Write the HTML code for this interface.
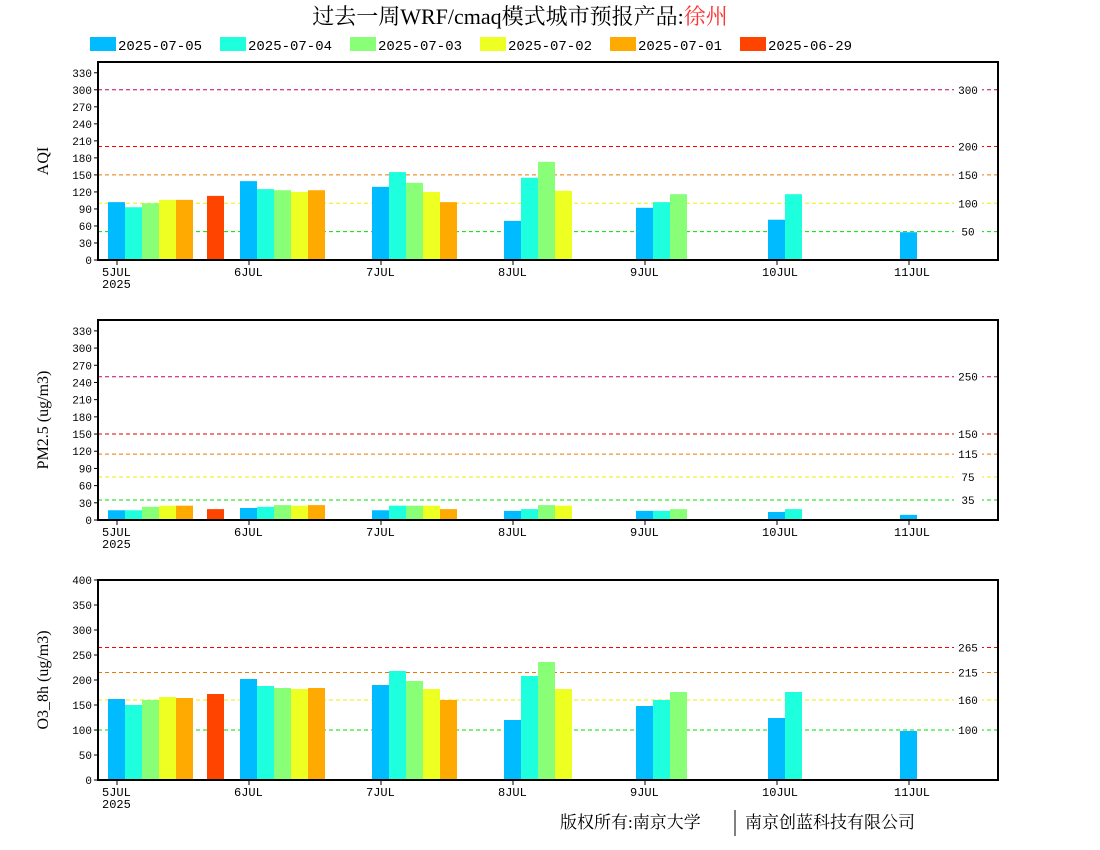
<!DOCTYPE html>
<html><head><meta charset="utf-8">
<style>
html,body{margin:0;padding:0;background:#fff;}
svg{display:block;font-family:"Liberation Mono","WenQuanYi Zen Hei",monospace;}
</style></head>
<body>
<svg id="chart" width="1100" height="850" viewBox="0 0 1100 850">
<text x="520" y="24" text-anchor="middle" font-size="22" font-family="Liberation Serif, Noto Serif CJK SC, serif">过去一周WRF/cmaq模式城市预报产品:<tspan fill="#ff3333">徐州</tspan></text>
<g id="legend"></g>
<g id="panels"></g>
<text x="560" y="828" font-size="17" font-family="Liberation Serif, Noto Serif CJK SC, serif">版权所有:南京大学</text>
<line x1="735" y1="810" x2="735" y2="836" stroke="#000" stroke-width="1"/>
<text x="745" y="828" font-size="17" font-family="Liberation Serif, Noto Serif CJK SC, serif">南京创蓝科技有限公司</text>
</svg>
<script>
const seriesNames = ["2025-07-05","2025-07-04","2025-07-03","2025-07-02","2025-07-01","2025-06-29"];
const seriesColors = ["#00bbff","#1effdd","#88ff77","#eeff22","#ffaa00","#ff4400"];
const dayLabels = ["5JUL","6JUL","7JUL","8JUL","9JUL","10JUL","11JUL"];
// values per series per day (null = no bar); series 6 (06-29) only on day index 0.75
const aqiValues = [
  [102,139,129,69,92,71,49],
  [93,125,155,145,102,116,null],
  [100,123,136,173,116,null,null],
  [106,120,120,122,null,null,null],
  [106,123,102,null,null,null,null]
];
const aqiOld = 113;
const pmValues = [
  [17,21,17,16,16,14,9],
  [17,23,25,19,16,19,null],
  [23,26,25,26,19,null,null],
  [25,25,25,25,null,null,null],
  [25,26,19,null,null,null,null]
];
const pmOld = 19;
const o3Values = [
  [162,202,190,120,148,124,98],
  [150,188,218,208,160,176,null],
  [160,184,198,236,176,null,null],
  [166,182,182,182,null,null,null],
  [164,184,160,null,null,null,null]
];
const o3Old = 172;
const aqiTicks = [0,30,60,90,120,150,180,210,240,270,300,330];
const pmTicks = [0,30,60,90,120,150,180,210,240,270,300,330];
const o3Ticks = [0,50,100,150,200,250,300,350,400];
const aqiRefs = [300,200,150,100,50];
const pmRefs = [250,150,115,75,35];
const o3Refs = [265,215,160,100];

const NS="http://www.w3.org/2000/svg";
function mk(tag,attrs,parent){const e=document.createElementNS(NS,tag);for(const k in attrs)e.setAttribute(k,attrs[k]);parent.appendChild(e);return e;}

const svg=document.getElementById('chart');
const leg=document.getElementById('legend');
seriesNames.forEach((n,i)=>{
  const x=90+i*130;
  const r=mk('rect',{x:x,y:37,width:26,height:14,fill:seriesColors[i]},leg);
  
  
  const t=mk('text',{x:x+28,y:50,'font-size':14},leg);
  t.textContent=n;
  
  
});

const X0=98,X1=998,TICK0=117,DAYW=132,BW=17;
function xDay(d){return TICK0+d*DAYW;}

function panel(cfg){
  const g=mk('g',{},document.getElementById('panels'));
  
  
  const top=cfg.top,bot=cfg.bot,max=cfg.max;
  const y=v=>bot-(v/max)*(bot-top);
  // refs
  const refColor={300:"#cc0066",250:"#cc0066",265:"#ff0000",200:"#ff0000",150:cfg.name==='pm25'?"#dd0000":"#ee7700",115:"#ee7700",215:"#ee7700",100:cfg.name==='o3'?"#00dd00":"#eeee00",160:"#eeee00",75:"#eeee00",50:"#00dd00",35:"#00dd00"};
  cfg.refs.forEach(v=>{
    const l=mk('line',{x1:X0,x2:X1,y1:y(v),y2:y(v),stroke:refColor[v]||"#888",'stroke-width':1,'stroke-dasharray':'4,3'},g);
    
    
    const tb=mk('rect',{x:954,y:y(v)-5,width:28,height:10,fill:'#fff'},g);
    
    
    const t=mk('text',{x:968,y:y(v)+4,'font-size':11,'text-anchor':'middle'},g);
    t.textContent=v;
    
    
  });
  // bars
  cfg.values.forEach((arr,s)=>{
    arr.forEach((v,d)=>{
      if(v==null)return;
      const r=mk('rect',{x:xDay(d)-9+s*BW,y:y(v),width:BW,height:bot-y(v),fill:seriesColors[s]},g);
      
      
    });
  });
  const ro=mk('rect',{x:xDay(0.75)-9,y:y(cfg.old),width:BW,height:bot-y(cfg.old),fill:seriesColors[5]},g);
  
  
  // frame
  const f=mk('rect',{x:X0,y:top,width:X1-X0,height:bot-top,fill:'none',stroke:'#000','stroke-width':2},g);
  
  
  // y ticks
  cfg.ticks.forEach(v=>{
    const l=mk('line',{x1:X0-4,x2:X0,y1:y(v),y2:y(v),stroke:'#000'},g);
    
    
    const t=mk('text',{x:X0-6,y:y(v)+4,'font-size':11,'text-anchor':'end'},g);
    t.textContent=v;
    
    
  });
  // x ticks
  dayLabels.forEach((lab,d)=>{
    const l=mk('line',{x1:xDay(d),x2:xDay(d),y1:bot,y2:bot+5,stroke:'#000'},g);
    
    
    const t=mk('text',{x:xDay(d)-15,y:bot+16,'font-size':12},g);
    t.textContent=lab;
    
    
  });
  const yr=mk('text',{x:102,y:bot+28,'font-size':12},g);
  yr.textContent='2025';
  
  
  const mid=(top+bot)/2;
  const yt=mk('text',{x:48,y:mid,'font-size':16,'text-anchor':'middle',transform:'rotate(-90 48 '+mid+')','font-family':'Liberation Serif, serif'},g);
  yt.textContent=cfg.title;
  
  
}
panel({name:'aqi',top:62,bot:260,max:349,values:aqiValues,old:aqiOld,ticks:aqiTicks,refs:aqiRefs,title:'AQI'});
panel({name:'pm25',top:320,bot:520,max:349,values:pmValues,old:pmOld,ticks:pmTicks,refs:pmRefs,title:'PM2.5 (ug/m3)'});
panel({name:'o3',top:580,bot:780,max:400,values:o3Values,old:o3Old,ticks:o3Ticks,refs:o3Refs,title:'O3_8h (ug/m3)'});
</script>
</body></html>
